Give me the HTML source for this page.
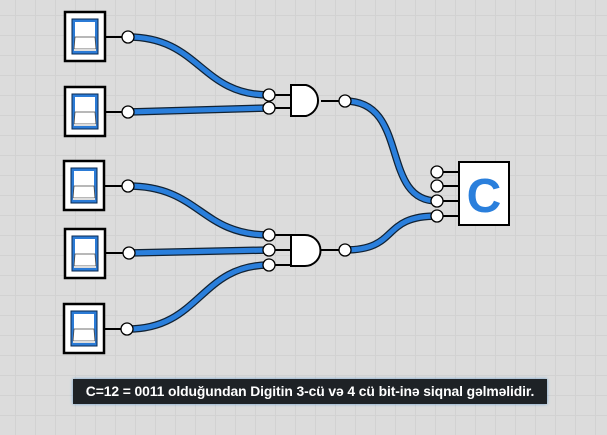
<!DOCTYPE html>
<html><head><style>
html,body{margin:0;padding:0;}
body{width:607px;height:435px;overflow:hidden;background:#dcdcdc;
background-image:linear-gradient(#d2d2d2 1px,transparent 1px),linear-gradient(90deg,#d2d2d2 1px,transparent 1px);
background-size:20px 20px;background-position:-5px -5px;position:relative;font-family:"Liberation Sans",sans-serif;}
.lbl{position:absolute;left:73px;top:379px;width:474px;height:25px;background:#1e2226;color:#fff;font-weight:bold;font-size:13.9px;line-height:25px;text-align:center;box-shadow:0 0 3px #6aa0d0;white-space:nowrap;letter-spacing:-0.1px;}
</style></head><body>
<svg width="607" height="435" style="position:absolute;left:0;top:0">
<defs>
<g id="sw">
<rect x="0" y="0" width="40" height="49" fill="#fff" stroke="#000" stroke-width="2.5"/>
<rect x="7" y="7" width="26" height="35" fill="#2b7bd6" stroke="#0a2a50" stroke-width="1"/>
<path d="M10 10 H30 V25 H10 Z" fill="#fff"/>
<path d="M10 25 H30 L31 37 H9 Z" fill="#fff" stroke="#444" stroke-width="0.8"/>
<rect x="9" y="37" width="22" height="2" fill="#ddd"/>
</g>
</defs>
<g fill="none" stroke-linecap="round">
<g stroke="#123" stroke-width="7.5">
<path d="M128 37 C200 37,200 95,269 95"/>
<path d="M128 112 L269 108"/>
<path d="M128 186 C200 186,200 235,269 235"/>
<path d="M128 253 L269 250"/>
<path d="M128 329 C200 329,200 265,269 265"/>
<path d="M345 101 C410 101,380 201,437 201"/>
<path d="M345 250 C400 250,380 216,437 216"/>
</g>
<g stroke="#2a7fdc" stroke-width="5">
<path d="M128 37 C200 37,200 95,269 95"/>
<path d="M128 112 L269 108"/>
<path d="M128 186 C200 186,200 235,269 235"/>
<path d="M128 253 L269 250"/>
<path d="M128 329 C200 329,200 265,269 265"/>
<path d="M345 101 C410 101,380 201,437 201"/>
<path d="M345 250 C400 250,380 216,437 216"/>
</g>
</g>
<g stroke="#000" stroke-width="2">
<line x1="104" y1="37" x2="128" y2="37"/><line x1="104" y1="112" x2="128" y2="112"/>
<line x1="104" y1="186" x2="128" y2="186"/><line x1="104" y1="253" x2="128" y2="253"/>
<line x1="104" y1="329" x2="128" y2="329"/>
<line x1="269" y1="95" x2="291" y2="95"/><line x1="269" y1="108" x2="291" y2="108"/>
<line x1="321" y1="101" x2="345" y2="101"/>
<line x1="269" y1="235" x2="291" y2="235"/><line x1="269" y1="250" x2="291" y2="250"/><line x1="269" y1="265" x2="291" y2="265"/>
<line x1="320" y1="250" x2="345" y2="250"/>
<line x1="437" y1="172" x2="459" y2="172"/><line x1="437" y1="186" x2="459" y2="186"/>
<line x1="437" y1="201" x2="459" y2="201"/><line x1="437" y1="216" x2="459" y2="216"/>
</g>
<use href="#sw" x="65" y="12"/>
<use href="#sw" x="65" y="87"/>
<use href="#sw" x="64" y="161"/>
<use href="#sw" x="65" y="229"/>
<use href="#sw" x="64" y="304"/>
<path d="M291 85 H306 A16 16 0 0 1 306 116 H291 Z" fill="#fff" stroke="#000" stroke-width="2"/>
<path d="M291 235 H305 A15.5 15.5 0 0 1 305 266 H291 Z" fill="#fff" stroke="#000" stroke-width="2"/>
<rect x="459" y="162" width="50" height="63" fill="#fff" stroke="#000" stroke-width="2"/>
<text x="484" y="212" text-anchor="middle" font-family="Liberation Sans,sans-serif" font-weight="bold" font-size="48" fill="#2a7fdc">C</text>
<g fill="#fff" stroke="#000" stroke-width="1.3">
<circle cx="128" cy="37" r="6"/><circle cx="128" cy="112" r="6"/><circle cx="128" cy="186" r="6"/>
<circle cx="129" cy="253" r="6"/><circle cx="127" cy="329" r="6"/>
<circle cx="269" cy="95" r="6"/><circle cx="269" cy="108" r="6"/><circle cx="345" cy="101" r="6"/>
<circle cx="269" cy="235" r="6"/><circle cx="269" cy="250" r="6"/><circle cx="269" cy="265" r="6"/>
<circle cx="345" cy="250" r="6"/>
<circle cx="437" cy="172" r="6"/><circle cx="437" cy="186" r="6"/><circle cx="437" cy="201" r="6"/><circle cx="437" cy="216" r="6"/>
</g>
</svg>
<div class="lbl">C=12 = 0011 olduğundan Digitin 3-cü və 4 cü bit-inə siqnal gəlməlidir.</div>
</body></html>
